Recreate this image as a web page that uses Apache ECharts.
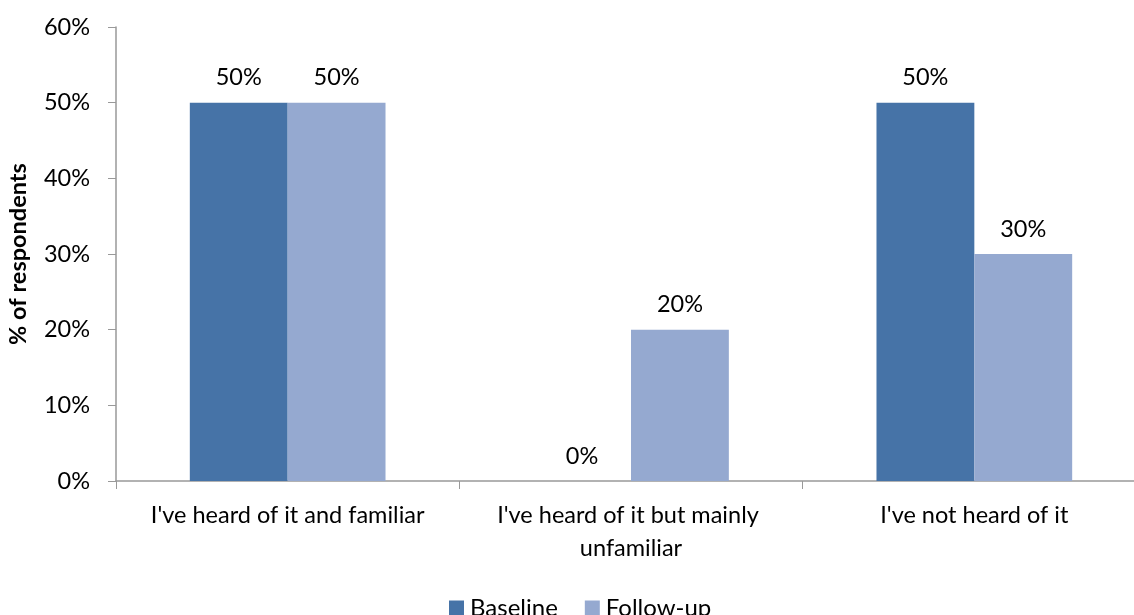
<!DOCTYPE html>
<html><head><meta charset="utf-8">
<script src="https://cdn.jsdelivr.net/npm/echarts@6/dist/echarts.min.js"></script>
<style>html,body{margin:0;padding:0;background:#fff}#c{width:1134px;height:615px}</style>
</head><body><div id="c"></div>
<script>
const categories = ["I've heard of it and familiar", "I've heard of it but mainly unfamiliar", "I've not heard of it"];
const baseline = [50, 0, 50];
const followUp = [50, 20, 30];
const yTicks = [0, 10, 20, 30, 40, 50, 60];
const seriesNames = ["Baseline", "Follow-up"];

const FONT = "Lato";
const FS = 23.5;
const chart = echarts.init(document.getElementById('c'));
const labelCfg = {show: true, position: 'top', distance: 13, formatter: p => p.value + '%', color: '#000', fontSize: FS, fontFamily: FONT};
chart.setOption({
  animation: false,
  grid: {left: 116, width: 1030, top: 27, height: 454, containLabel: false, outerBoundsMode: 'none'},
  legend: {top: 591, left: 444, itemWidth: 15, itemHeight: 15, itemGap: 27,
    textStyle: {fontSize: 24, fontFamily: FONT, color: '#000', padding: [0, 0, 0, 1]}, data: seriesNames, icon: 'rect'},
  xAxis: {type: 'category', data: categories,
    axisLine: {lineStyle: {color: '#999', width: 1.5}},
    axisTick: {show: true, length: 8, lineStyle: {color: '#999'}},
    axisLabel: {fontSize: FS, fontFamily: FONT, color: '#000', margin: 18, width: 320, overflow: 'break', lineHeight: 33, interval: 0}},
  yAxis: {type: 'value', min: 0, max: 60, interval: 10,
    name: '% of respondents', nameLocation: 'middle', nameGap: 86, nameRotate: 90,
    nameTextStyle: {fontSize: FS, fontWeight: 'bold', fontFamily: FONT, color: '#000'},
    axisLine: {show: true, lineStyle: {color: '#999', width: 1.5}},
    axisTick: {show: true, length: 8, lineStyle: {color: '#999'}},
    splitLine: {show: false},
    axisLabel: {fontSize: FS, fontFamily: FONT, color: '#000', margin: 26,
      formatter: v => yTicks.includes(v) ? v + '%' : ''}},
  series: [
    {name: seriesNames[0], type: 'bar', data: baseline, barGap: '0%', barCategoryGap: '43%',
      itemStyle: {color: '#4673A7'}, label: labelCfg},
    {name: seriesNames[1], type: 'bar', data: followUp, barGap: '0%', barCategoryGap: '43%',
      itemStyle: {color: '#95A9D0'}, label: labelCfg}
  ]
});
</script></body></html>
